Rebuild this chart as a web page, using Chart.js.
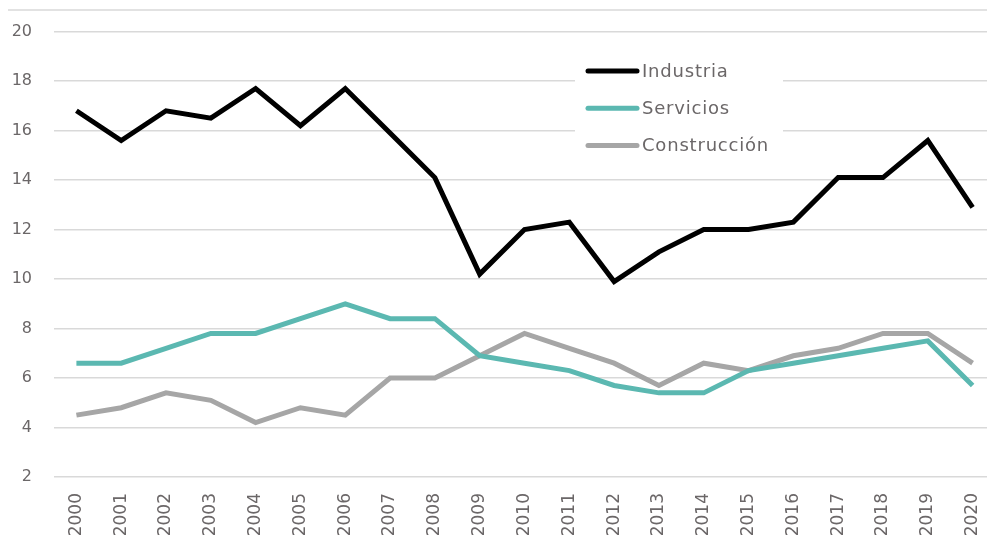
<!DOCTYPE html>
<html>
<head>
<meta charset="utf-8">
<script src="https://cdn.jsdelivr.net/npm/chart.js@4"></script>
<style>
  html, body { margin: 0; padding: 0; background: #fff; overflow: hidden; }
  #wrap { position: relative; width: 1000px; height: 543px; }
</style>
</head>
<body>
<div id="wrap"><canvas id="chart" width="1000" height="543"></canvas></div>
<script>
// Years on the x axis
const years = ['2000', '2001', '2002', '2003', '2004', '2005', '2006', '2007', '2008', '2009', '2010',
  '2011', '2012', '2013', '2014', '2015', '2016', '2017', '2018', '2019', '2020'];

// Series values
const industria = [16.8, 15.6, 16.8, 16.5, 17.7, 16.2, 17.7, 15.9, 14.1, 10.2, 12.0,
  12.3, 9.9, 11.1, 12.0, 12.0, 12.3, 14.1, 14.1, 15.6, 12.9];
const servicios = [6.6, 6.6, 7.2, 7.8, 7.8, 8.4, 9.0, 8.4, 8.4, 6.9, 6.6,
  6.3, 5.7, 5.4, 5.4, 6.3, 6.6, 6.9, 7.2, 7.5, 5.7];
const construccion = [4.5, 4.8, 5.4, 5.1, 4.2, 4.8, 4.5, 6.0, 6.0, 6.9, 7.8,
  7.2, 6.6, 5.7, 6.6, 6.3, 6.9, 7.2, 7.8, 7.8, 6.6];

const seriesNames = ['Industria', 'Servicios', 'Construcción'];
const seriesColors = ['#000000', '#5bb8b1', '#a6a6a6'];

const textColor = '#6b6768';
const gridColor = '#d9d9d9';
const fontFamily = '"DejaVu Sans", sans-serif';

// Draws the top border line and the floating legend box
const decorPlugin = {
  id: 'decor',
  beforeDatasetsDraw(chart) {
    const c = chart.ctx;
    c.save();
    // top border
    c.strokeStyle = gridColor;
    c.lineWidth = 1.5;
    c.beginPath();
    c.moveTo(8, 10);
    c.lineTo(chart.width, 10);
    c.stroke();

    // legend box
    c.fillStyle = '#fff';
    c.fillRect(575, 45, 208, 122);
    const rows = [71, 108.3, 145.5];
    chart.data.datasets.forEach((ds, i) => {
      c.strokeStyle = ds.borderColor;
      c.lineWidth = 5;
      c.lineCap = 'round';
      c.beginPath();
      c.moveTo(588, rows[i]);
      c.lineTo(637, rows[i]);
      c.stroke();
      c.fillStyle = textColor;
      c.font = '18px ' + fontFamily;
      c.letterSpacing = '0.8px';
      c.textBaseline = 'middle';
      c.fillText(ds.label, 642, rows[i] + 1);
    });
    c.restore();
  }
};

const ctx = document.getElementById('chart').getContext('2d');

new Chart(ctx, {
  type: 'line',
  data: {
    labels: years,
    datasets: [industria, servicios, construccion].map((values, i) => ({
      label: seriesNames[i],
      data: values,
      borderColor: seriesColors[i],
      backgroundColor: seriesColors[i],
      borderWidth: 5,
      pointRadius: 0,
      tension: 0,
      fill: false,
    })),
  },
  options: {
    responsive: false,
    animation: false,
    layout: { padding: { left: 8, right: 5, top: 30, bottom: 0 } },
    plugins: {
      legend: { display: false },
      tooltip: { enabled: false },
    },
    scales: {
      x: {
        offset: true,
        grid: { display: false, drawTicks: false },
        border: { display: false },
        ticks: {
          color: textColor,
          font: { family: fontFamily, size: 17 },
          minRotation: 90,
          maxRotation: 90,
          padding: 16,
          autoSkip: false,
        },
        afterFit(scale) {
          scale.height = 66;
          scale.paddingLeft = 0;
          scale.paddingRight = 0;
        },
      },
      y: {
        min: 2,
        max: 20,
        grid: { color: gridColor, lineWidth: 1.5, drawTicks: false },
        border: { display: false },
        ticks: {
          stepSize: 2,
          color: textColor,
          font: { family: fontFamily, size: 16 },
          padding: 22,
        },
        afterFit(scale) { scale.width = 46; },
      },
    },
  },
  plugins: [decorPlugin],
});
</script>
</body>
</html>
